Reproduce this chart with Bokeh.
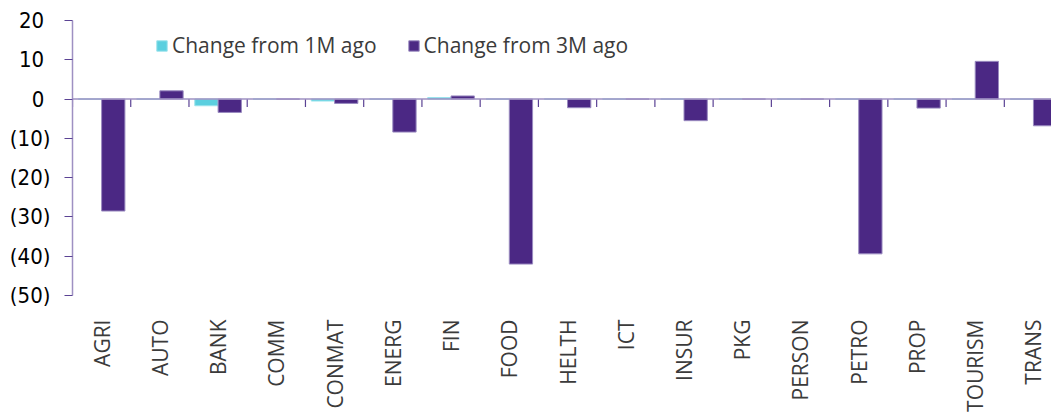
import math
from bokeh.plotting import figure
from bokeh.models import (Range1d, LinearAxis, FixedTicker, CustomJSTickFormatter,
                          Legend, LegendItem, ColumnDataSource, Span)
from bokeh.embed import file_html
from bokeh.resources import INLINE

categories = ["AGRI", "AUTO", "BANK", "COMM", "CONMAT", "ENERG", "FIN", "FOOD", "HELTH",
              "ICT", "INSUR", "PKG", "PERSON", "PETRO", "PROP", "TOURISM", "TRANS"]
change_1m = [0.0, 0.0, -1.7, 0.0, -0.5, 0.0, 0.4, 0.0, 0.0,
             0.0, 0.0, 0.0, 0.0, 0.0, 0.0, 0.0, 0.0]
change_3m = [-28.5, 2.1, -3.4, 0.0, -1.1, -8.4, 0.8, -42.0, -2.2,
             0.0, -5.5, 0.0, 0.0, -39.4, -2.3, 9.6, -6.8]
y_ticks = [20, 10, 0, -10, -20, -30, -40, -50]

n = len(categories)
idx = list(range(n))
src = ColumnDataSource(dict(
    x1=[i + 0.3 for i in idx],
    x3=[i + 0.7 for i in idx],
    m1=change_1m,
    m3=change_3m,
    cat=categories,
))
bounds = ColumnDataSource(dict(x=list(range(n + 1)), y=[0] * (n + 1)))

p = figure(width=1051, height=414, x_range=Range1d(0, 16.81), y_range=Range1d(-50, 20),
           output_backend="svg", toolbar_location=None,
           x_axis_type=None, y_axis_type=None,
           min_border_left=72, min_border_top=20, min_border_bottom=117, min_border_right=0)
p.outline_line_color = None
p.background_fill_color = "white"

r1 = p.vbar(x="x1", top="m1", bottom=0, width=0.4, source=src,
            fill_color="#5BCFDF", line_color="#9BE3EC", line_width=1)
r3 = p.vbar(x="x3", top="m3", bottom=0, width=0.4, source=src,
            fill_color="#4B2884", line_color="#9A8BC0", line_width=1)

# zero line and category separator ticks
p.add_layout(Span(location=0, dimension="width", line_color="#9E90C2", line_width=1.5))
p.ray(x="x", y="y", length=8, length_units="screen", angle=-math.pi / 2,
      source=bounds, line_color="#5B4394", line_width=1.2)

yfmt = CustomJSTickFormatter(code="""
const v = Math.round(tick);
if (v < 0) { return "(" + Math.abs(v) + ")"; }
return v + "\\u00a0";
""")
yaxis = LinearAxis(ticker=FixedTicker(ticks=y_ticks), formatter=yfmt,
                   axis_line_color="#9E90C2", axis_line_width=1.5,
                   major_tick_line_color="#5B4394", major_tick_in=0, major_tick_out=8,
                   minor_tick_line_color=None, major_label_standoff=14,
                   major_label_text_font="DejaVu Sans Condensed, DejaVu Sans",
                   major_label_text_font_size="22px", major_label_text_color="black")
p.add_layout(yaxis, "left")

label_fmt = CustomJSTickFormatter(args=dict(cats=categories),
                                  code="return cats[Math.floor(tick)] || '';")
label_axis = LinearAxis(ticker=FixedTicker(ticks=[i + 0.5 for i in idx]), formatter=label_fmt,
                        axis_line_color=None, major_tick_line_color=None,
                        minor_tick_line_color=None, major_label_standoff=18,
                        major_label_orientation=math.pi / 2,
                        major_label_text_font="Open Sans", major_label_text_font_size="21px",
                        major_label_text_color="#3b3b3b")
p.add_layout(label_axis, "below")

legend = Legend(items=[LegendItem(label="Change from 1M ago", renderers=[r1]),
                       LegendItem(label="Change from 3M ago", renderers=[r3])],
                orientation="horizontal", location=(83, 236),
                border_line_color=None, background_fill_alpha=0,
                glyph_width=13, glyph_height=13, label_standoff=4, spacing=30,
                padding=0, margin=0, label_height=24,
                label_text_font="Open Sans", label_text_font_size="21px",
                label_text_color="#3b3b3b")
p.add_layout(legend)

open("out.html", "w").write(file_html(p, INLINE))
